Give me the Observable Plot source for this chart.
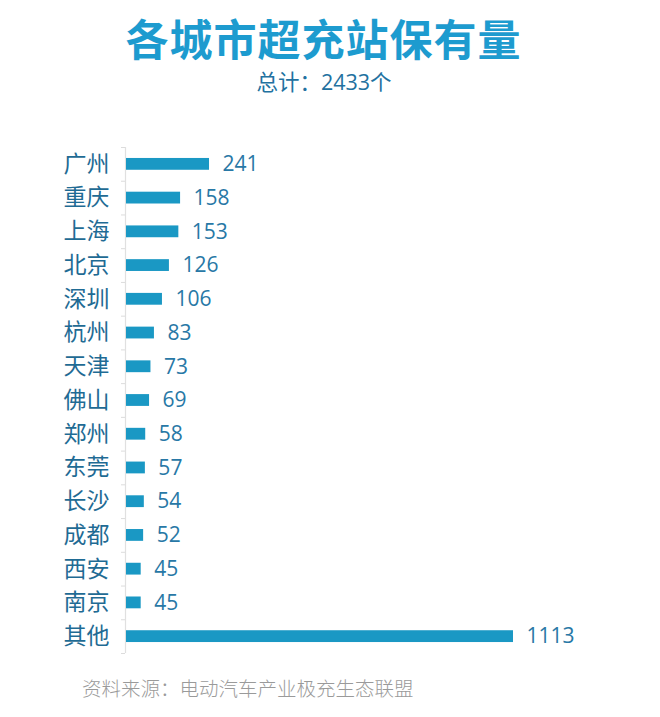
<!DOCTYPE html>
<html>
<head>
<meta charset="utf-8">
<script src="https://cdn.jsdelivr.net/npm/d3@7"></script>
<script src="https://cdn.jsdelivr.net/npm/@observablehq/plot@0.6"></script>
<style>
  html, body { margin: 0; padding: 0; background: #fff; }
  body { width: 660px; height: 717px; overflow: hidden; font-family: "Open Sans", "Noto Sans CJK SC", sans-serif; }
  #header { position: relative; height: 94px; }
  #title { position: absolute; left: 0; top: 13px; width: 647px; height: 48px; line-height: 48px; text-align: center; font-size: 43px; font-weight: bold; color: #1d9bcf; font-family: "Noto Sans CJK SC", sans-serif; letter-spacing: 1px; white-space: nowrap; }
  #subtitle { position: absolute; left: 0; top: 68px; width: 648px; height: 27px; line-height: 27px; text-align: center; font-size: 21.5px; color: #22719f; white-space: nowrap; }
  #chart { height: 569px; }
  #footer { margin-top: 10px; height: 30px; line-height: 30px; padding-left: 82px; font-size: 19.5px; color: #9a9a9a; font-family: "Noto Sans CJK SC", sans-serif; font-weight: 300; }
  #chart svg { display: block; }
</style>
</head>
<body>
<div id="header">
  <div id="title">各城市超充站保有量</div>
  <div id="subtitle">总计：2433个</div>
</div>
<div id="chart"></div>
<div id="footer">资料来源：电动汽车产业极充生态联盟</div>
<script>
const cities = ["广州", "重庆", "上海", "北京", "深圳", "杭州", "天津", "佛山", "郑州", "东莞", "长沙", "成都", "西安", "南京", "其他"];
const values = [241, 158, 153, 126, 106, 83, 73, 69, 58, 57, 54, 52, 45, 45, 1113];

const data = cities.map((city, i) => ({city, value: values[i]}));

const height = 569, marginTop = 53, marginBottom = 10;
const step = (height - marginTop - marginBottom) / cities.length;

const chart = Plot.plot({
  width: 660,
  height,
  marginTop,
  marginBottom,
  marginLeft: 125,
  marginRight: 147,
  style: {fontFamily: "'Open Sans', 'Noto Sans CJK SC', sans-serif", background: "#fff"},
  x: {domain: [0, 1113], axis: null},
  y: {domain: cities, paddingInner: 0.65, paddingOuter: 0.325, round: false, label: null},
  marks: [
    Plot.ruleX([0], {stroke: "#e0e0e0", strokeWidth: 1.2}),
    Plot.axisY({tickSize: 4, text: null, stroke: "#dcdcdc", dy: -step / 2}),
    Plot.axisY({ticks: [cities[cities.length - 1]], tickSize: 4, text: null, stroke: "#dcdcdc", dy: step / 2}),
    Plot.axisY({tickSize: 0, tickPadding: 16, fontSize: 23, fill: "#1f6b94", fontFamily: "'Noto Sans CJK SC', sans-serif", label: null}),
    Plot.barX(data, {x: "value", y: "city", fill: "#1a98c4", insetLeft: 1}),
    Plot.text(data, {x: "value", y: "city", text: d => String(d.value), dx: 13, textAnchor: "start", fontSize: 21, fill: "#2878a6"})
  ]
});
document.getElementById("chart").appendChild(chart);
</script>
</body>
</html>
